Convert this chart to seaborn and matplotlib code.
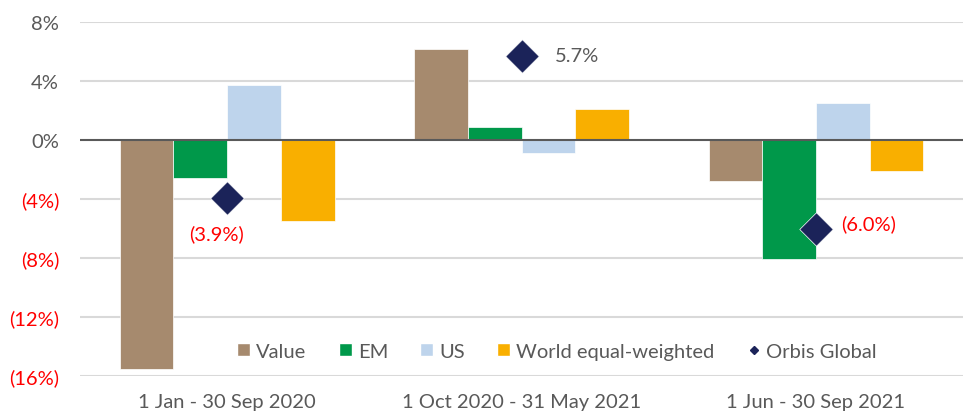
import matplotlib
matplotlib.use("Agg")
import matplotlib.pyplot as plt
import seaborn as sns
import pandas as pd
from matplotlib.patches import Patch
from matplotlib.lines import Line2D

periods = ["1 Jan - 30 Sep 2020", "1 Oct 2020 - 31 May 2021", "1 Jun - 30 Sep 2021"]
series = ["Value", "EM", "US", "World equal-weighted"]
value = [-15.5, 6.2, -2.8]
em = [-2.6, 0.9, -8.1]
us = [3.7, -0.9, 2.5]
world = [-5.5, 2.1, -2.1]
orbis = [-3.9, 5.7, -6.0]
orbis_labels = ["(3.9%)", "5.7%", "(6.0%)"]

yticks = [8, 4, 0, -4, -8, -12, -16]
ytick_labels = ["8%", "4%", "0%", "(4%)", "(8%)", "(12%)", "(16%)"]

colors = ["#A68A6E", "#00984A", "#BED4EC", "#F9AF00"]
orbis_color = "#1B2359"
grey = "#595959"
red = "#FF0000"

rows = []
for name, vals in zip(series, [value, em, us, world]):
    for p, v in zip(periods, vals):
        rows.append({"period": p, "series": name, "ret": v})
df = pd.DataFrame(rows)

sns.set_style("white")
plt.rcParams["font.family"] = ["Lato", "DejaVu Sans"]
fs = 14.5

fig = plt.figure(figsize=(9.68, 4.14), dpi=100)
ax = fig.add_axes([0.0826, 0.0894, 0.9124, 0.8550])

sns.barplot(data=df, x="period", y="ret", hue="series", order=periods,
            hue_order=series, palette=colors, width=0.73, saturation=1,
            edgecolor="white", linewidth=0.5, legend=False, ax=ax)

# Orbis Global diamonds at the group centres
xs = list(range(len(periods)))
ax.scatter(xs, orbis, marker="D", s=290, color=orbis_color, zorder=5,
           edgecolor="white", linewidth=0.5)

# labels next to the diamonds
ax.annotate(orbis_labels[0], (xs[0], orbis[0]), xytext=(-8, -26),
            textcoords="offset points", ha="center", va="center",
            color=red, fontsize=fs)
ax.annotate(orbis_labels[1], (xs[1], orbis[1]), xytext=(24, 0),
            textcoords="offset points", ha="left", va="center",
            color=grey, fontsize=fs)
ax.annotate(orbis_labels[2], (xs[2], orbis[2]), xytext=(18, 4),
            textcoords="offset points", ha="left", va="center",
            color=red, fontsize=fs)

ax.set_ylim(-16, 8)
ax.set_xlim(-0.5, 2.5)
ax.set_yticks(yticks)
ax.set_yticklabels(ytick_labels)
for lbl, v in zip(ax.get_yticklabels(), yticks):
    lbl.set_color(red if v < 0 else grey)
ax.tick_params(axis="y", length=0, pad=15, labelsize=fs)
ax.tick_params(axis="x", length=0, pad=12, labelsize=fs, labelcolor=grey)
ax.set_xlabel("")
ax.set_ylabel("")

for v in yticks:
    if v != 0:
        ax.axhline(v, color="#D9D9D9", lw=1.5, zorder=0)
ax.axhline(0, color=grey, lw=1.5, zorder=3)
sns.despine(ax=ax, left=True, bottom=True)

handles = [Patch(facecolor=c, label=s) for c, s in zip(colors, series)]
handles.append(Line2D([], [], marker="D", ls="", color=orbis_color,
                      markersize=4.5, label="Orbis Global"))
ax.legend(handles=handles, loc="center", bbox_to_anchor=(0.54, 0.07),
          ncol=5, frameon=False, fontsize=fs, handlelength=0.65,
          handleheight=0.65, handletextpad=0.3, columnspacing=1.6,
          labelcolor=grey)

fig.savefig("out.png", dpi=100)
